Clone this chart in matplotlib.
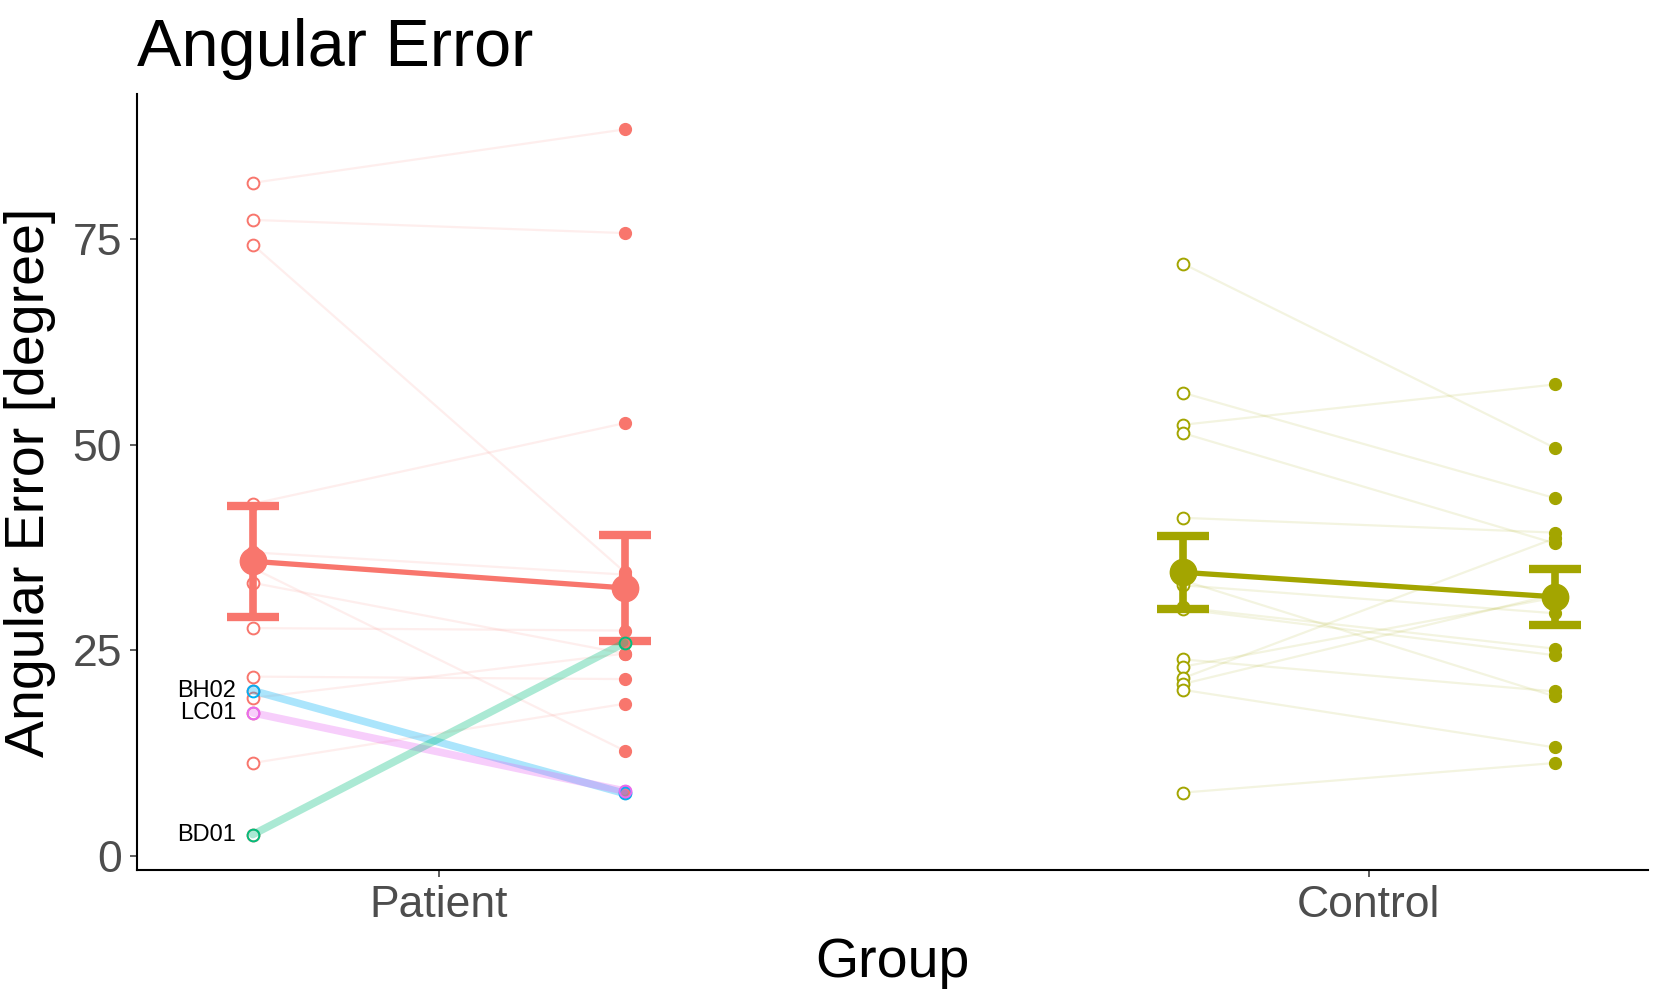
import numpy as np
import matplotlib
matplotlib.use('Agg')
import matplotlib.pyplot as plt

plt.rcParams['font.family'] = ['Liberation Sans', 'DejaVu Sans']

# values (angular error, degrees)
groups = ['Patient', 'Control']
group_colors = ['#F8766D', '#A3A500']

patient_pre = [81.8, 77.3, 74.3, 42.8, 36.9, 35.0, 33.2, 27.7, 21.8, 20.1, 19.2, 17.4, 11.3, 2.6]
patient_post = [88.3, 75.7, 34.5, 52.6, 34.2, 12.8, 24.6, 27.4, 21.5, 7.6, 24.6, 7.9, 18.5, 25.9]
patient_labels = ['', '', '', '', '', '', '', '', '', 'BH02', '', 'LC01', '', 'BD01']

control_pre = [72.0, 56.3, 52.4, 51.4, 41.1, 33.5, 32.9, 30.2, 30.0, 23.9, 23.0, 21.6, 20.9, 20.2, 7.7]
control_post = [49.6, 43.5, 57.3, 38.0, 39.3, 19.4, 29.5, 25.2, 24.4, 20.0, 31.4, 38.6, 31.8, 13.2, 11.3]
control_labels = [''] * len(control_pre)

label_names = ['BH02', 'LC01', 'BD01']
label_colors = ['#00B0F6', '#E76BF3', '#00BF7D']

yticks = [0, 25, 50, 75]

fig = plt.figure(figsize=(16.67, 10), dpi=100)
ax = fig.add_axes([0.0824, 0.130, 0.906, 0.776])

dodge = 0.2
data = [(patient_pre, patient_post, patient_labels),
        (control_pre, control_post, control_labels)]

for gi, (pre, post, labels) in enumerate(data):
    col = group_colors[gi]
    xc = gi + 1
    xs = [xc - dodge, xc + dodge]
    pre = np.asarray(pre)
    post = np.asarray(post)

    # faint per-subject lines
    for a, b, lab in zip(pre, post, labels):
        if lab:
            continue
        ax.plot(xs, [a, b], color=col, alpha=0.12, lw=1.6, zorder=1,
                solid_capstyle='butt')

    # individual points: open for pre, filled for post
    ax.plot(np.full(len(pre), xs[0]), pre, 'o', ms=8.5, mfc='white', mec=col,
            mew=1.4, zorder=2)
    ax.plot(np.full(len(post), xs[1]), post, 'o', ms=8.5, mfc=col, mec=col,
            zorder=2)

    # mean +- standard error
    means = [pre.mean(), post.mean()]
    ses = [pre.std(ddof=1) / np.sqrt(len(pre)), post.std(ddof=1) / np.sqrt(len(post))]
    ax.plot(xs, means, color=col, lw=3.8, zorder=3)
    ax.errorbar(xs, means, yerr=ses, fmt='o', color=col, ms=19, lw=5.5,
                capsize=19, capthick=6, zorder=3)

    # highlighted subjects
    for a, b, lab in zip(pre, post, labels):
        if not lab:
            continue
        lc = label_colors[label_names.index(lab)]
        ax.plot(xs, [a, b], color=lc, alpha=0.33, lw=5.5, zorder=4,
                solid_capstyle='round')
        ax.plot(xs, [a, b], 'o', ms=8.5, mfc='none', mec=lc, mew=1.4, zorder=5)
        ax.annotate(lab, (xs[0], a), xytext=(-12, 0), textcoords='offset points',
                    ha='right', va='center', fontsize=17, color='black')

ax.set_xlim(0.676, 2.30)
ax.set_ylim(-1.7, 92.6)
ax.set_xticks([1, 2])
ax.set_xticklabels(groups)
ax.set_yticks(yticks)
ax.set_yticklabels([str(t) for t in yticks])

for side in ['top', 'right']:
    ax.spines[side].set_visible(False)
for side in ['left', 'bottom']:
    ax.spines[side].set_linewidth(1.5)
    ax.spines[side].set_color('black')

ax.tick_params(axis='both', labelsize=32, labelcolor='#4D4D4D', color='#333333',
               length=5, width=1.1, pad=6)

ax.set_xlabel('Group', fontsize=40, labelpad=8)
ax.set_ylabel('Angular Error [degree]', fontsize=40, labelpad=12)
ax.set_title('Angular Error', fontsize=48, loc='left', pad=20)

fig.savefig('out.png', dpi=100)
